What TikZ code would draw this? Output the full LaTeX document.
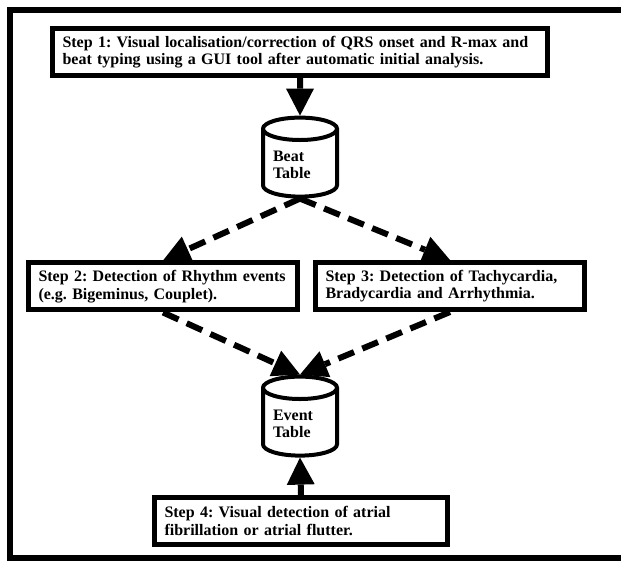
\documentclass[tikz,border=0pt]{standalone}
\usepackage{fontspec}
\setmainfont{Liberation Serif}
\usetikzlibrary{arrows.meta, shapes.geometric}

\begin{document}
\frenchspacing
\begin{tikzpicture}[
        x=1pt, y=-1pt,
        frame line/.style={line width=6pt, line join=miter},
        stepbox/.style={draw, line width=5pt, align=left, inner xsep=10pt, inner ysep=0pt, minimum height=47pt, font=\fontsize{16}{17.5}\selectfont\bfseries},
        tablecyl/.style={draw, cylinder, shape border rotate=90, aspect=0.4, line width=4pt, minimum width=74pt, minimum height=79pt, inner sep=1pt, text width=54pt, align=left, font=\fontsize{16}{17.5}\selectfont\bfseries},
        flow arrow/.style={line width=6pt, -{Triangle[length=27pt, width=28pt, line width=0pt]}},
        dashed flow/.style={flow arrow, dash pattern=on 17pt off 9pt},
    ]

    \useasboundingbox (0,0) rectangle (621,561);

    % Outer frame (right side open)
    \draw[frame line] (621,10.5) -- (10,10.5) -- (10,558) -- (621,558);

    % Steps
    \node[stepbox, text width=475pt] (s1) at (300,52)
        {Step 1: Visual localisation/correction of QRS onset and R-max and\\beat typing using a GUI tool after automatic initial analysis.};
    \node[stepbox, text width=249pt] (s2) at (163,286.5)
        {Step 2: Detection of Rhythm events\\(e.g. Bigeminus, Couplet).};
    \node[stepbox, text width=249pt] (s3) at (450,286)
        {Step 3: Detection of Tachycardia,\\Bradycardia and Arrhythmia.};
    \node[stepbox, text width=273pt] (s4) at (301,521)
        {Step 4: Visual detection of atrial\\fibrillation or atrial flutter.};

    % Tables
    \node[tablecyl] (beat) at (300,165) {Beat\\Table};
    \node[tablecyl] (event) at (300,424) {Event\\Table};

    % Flow
    \draw[flow arrow] (s1.south) -- (beat.north);
    \draw[dashed flow] (beat.south) -- (s2.north);
    \draw[dashed flow] (beat.south) -- (s3.north);
    \draw[dashed flow] (s2.south) -- (event.north);
    \draw[dashed flow] (s3.south) -- (event.north);
    \draw[flow arrow] (s4.north) -- (event.south);

\end{tikzpicture}
\end{document}
